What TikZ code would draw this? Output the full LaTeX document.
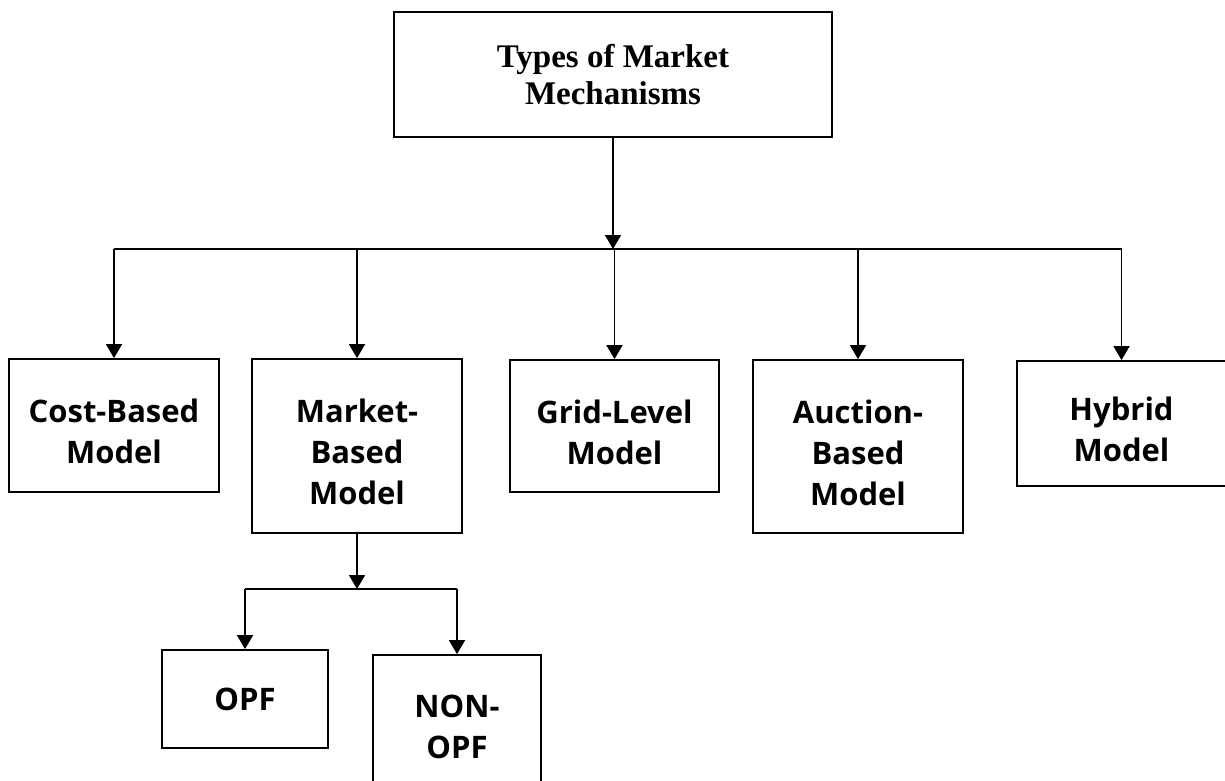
\documentclass[tikz,border=0pt]{standalone}
\usepackage{fontspec}
\setmainfont{Liberation Serif}
\newfontfamily\boxfont{Open Sans}
\usetikzlibrary{arrows.meta}

\newcommand{\toppad}{\rule{0pt}{18pt}}

\tikzstyle{block}=[rectangle,
    draw=black,
    line width=0.9pt,
    align=center,
    font=\boxfont\bfseries\fontsize{15.5pt}{20.5pt}\selectfont]
\tikzstyle{headblock}=[block,
    font=\bfseries\fontsize{16.5pt}{18.5pt}\selectfont]
\tikzstyle{junction} = [coordinate]

\begin{document}
\begin{tikzpicture}[x=0.5pt,y=-0.5pt,line width=0.9pt,
    >={Triangle[length=7pt,width=8pt]}]
                \useasboundingbox (0,0) rectangle (1225,781);
                \clip (0,0) rectangle (1225,781);
                \node (types) [headblock,minimum width=219pt,minimum height=62.5pt] at (613,74.5) {Types of Market\\Mechanisms};
                \node (bus) [junction] at (613,249) {};
                \node (cost) [block,minimum width=105pt,minimum height=66.5pt] at (114,425.5) {\toppad Cost-Based\\Model};
                \node (market) [block,minimum width=105pt,minimum height=87pt] at (357,446) {\toppad Market-\\Based\\Model};
                \node (grid) [block,minimum width=104.5pt,minimum height=66pt] at (614.5,426) {\toppad Grid-Level\\Model};
                \node (auction) [block,minimum width=105pt,minimum height=86.5pt] at (858,446.5) {\toppad Auction-\\Based\\Model};
                \node (hybrid) [block,minimum width=104.5pt,minimum height=62.5pt] at (1121.5,423.5) {\toppad Hybrid\\Model};
                \node (split) [junction] at (360,589) {};
                \node (opf) [block,minimum width=83pt,minimum height=49pt] at (245,699) {OPF};
                \node (nonopf) [block,minimum width=84pt,minimum height=72pt] at (457,727) {NON-\\OPF};
                \draw [->] (types) -- (bus);
                \draw (cost |- bus) -- (hybrid |- bus);
                \foreach \n in {cost,market,grid,auction,hybrid}
                    \draw [->] (\n |- bus) -- (\n);
                \draw [->] (market) -- (market |- split);
                \draw (opf |- split) -- (nonopf |- split);
                \foreach \n in {opf,nonopf}
                    \draw [->] (\n |- split) -- (\n);
            \end{tikzpicture}
\end{document}
